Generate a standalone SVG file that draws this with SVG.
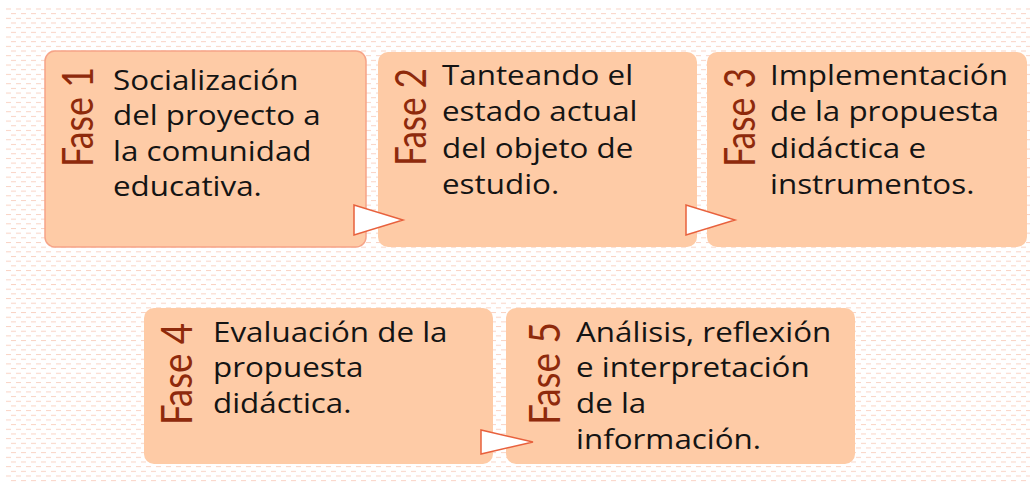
<svg xmlns="http://www.w3.org/2000/svg" width="1034" height="484" viewBox="0 0 1034 484">
<defs>
<pattern id="bg" x="6" y="8.5" width="10" height="9.34" patternUnits="userSpaceOnUse">
<rect x="0" y="0" width="5" height="1" fill="#f9d3c4"/>
<rect x="5" y="4.67" width="5" height="1" fill="#f9d3c4"/>
</pattern>
</defs>
<style>
.box{fill:#fecba6;}
.sel{stroke:#f6a488;stroke-width:1.5;}
.t{font-family:"Open Sans","DejaVu Sans",sans-serif;font-size:28px;fill:#141414;}
.f{font-family:Lato,"Liberation Sans",sans-serif;font-size:42px;fill:#8e2a0c;}
.arr{fill:#ffffff;stroke:#e8613d;stroke-width:1.5;stroke-linejoin:miter;}
</style>
<rect x="0" y="0" width="1034" height="484" fill="#ffffff"/>
<rect x="6" y="8" width="1024" height="474" fill="url(#bg)"/>

<g id="fase1">
<rect class="box sel" x="45" y="51" width="321" height="196" rx="10"/>
<text class="f" transform="translate(93,167) rotate(-90)" textLength="100" lengthAdjust="spacingAndGlyphs">Fase 1</text>
<text class="t" transform="translate(113,0) scale(1.12,1)"><tspan x="0" y="90">Socialización</tspan><tspan x="0" y="125.5">del proyecto a</tspan><tspan x="0" y="161">la comunidad</tspan><tspan x="0" y="196">educativa.</tspan></text>
</g>

<g id="fase2">
<rect class="box" x="378" y="52" width="319" height="195" rx="10"/>
<text class="f" transform="translate(426,166) rotate(-90)" textLength="98" lengthAdjust="spacingAndGlyphs">Fase 2</text>
<text class="t" transform="translate(442,0) scale(1.12,1)"><tspan x="0" y="85">Tanteando el</tspan><tspan x="0" y="121.5">estado actual</tspan><tspan x="0" y="158">del objeto de</tspan><tspan x="0" y="194">estudio.</tspan></text>
</g>

<g id="fase3">
<rect class="box" x="707" y="52" width="320" height="195" rx="10"/>
<text class="f" transform="translate(755,167) rotate(-90)" textLength="99" lengthAdjust="spacingAndGlyphs">Fase 3</text>
<text class="t" transform="translate(770,0) scale(1.12,1)"><tspan x="0" y="85">Implementación</tspan><tspan x="0" y="121.5">de la propuesta</tspan><tspan x="0" y="158">didáctica e</tspan><tspan x="0" y="194">instrumentos.</tspan></text>
</g>

<g id="fase4">
<rect class="box" x="144" y="308" width="349" height="156" rx="10"/>
<text class="f" transform="translate(192,425) rotate(-90)" textLength="102" lengthAdjust="spacingAndGlyphs">Fase 4</text>
<text class="t" transform="translate(213,0) scale(1.12,1)"><tspan x="0" y="342">Evaluación de la</tspan><tspan x="0" y="377.5">propuesta</tspan><tspan x="0" y="413">didáctica.</tspan></text>
</g>

<g id="fase5">
<rect class="box" x="506" y="308" width="349" height="156" rx="10"/>
<text class="f" transform="translate(560,425) rotate(-90)" textLength="103" lengthAdjust="spacingAndGlyphs">Fase 5</text>
<text class="t" transform="translate(576,0) scale(1.12,1)"><tspan x="0" y="342">Análisis, reflexión</tspan><tspan x="0" y="377.5">e interpretación</tspan><tspan x="0" y="413.5">de la</tspan><tspan x="0" y="449">información.</tspan></text>
</g>

<g id="connectors">
<polygon class="arr" points="354,205 354,235 403,220"/>
<polygon class="arr" points="686,205 686,235 735,220"/>
<polygon class="arr" points="481,430 481,454 533,442"/>
</g>
</svg>
